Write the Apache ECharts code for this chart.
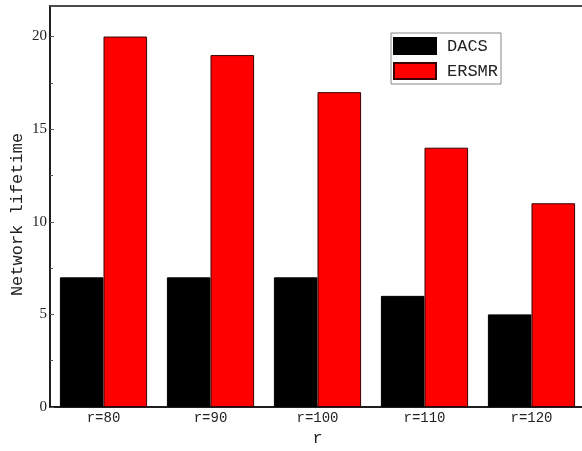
<!DOCTYPE html>
<html>
<head>
<meta charset="utf-8">
<script src="https://cdn.jsdelivr.net/npm/echarts@6/dist/echarts.min.js"></script>
<style>
  html, body { margin: 0; padding: 0; background: #fff; }
  #chart { width: 582px; height: 451px; }
</style>
</head>
<body>
<div id="chart"></div>
<script>
// Network lifetime per communication radius
const categories = ['r=80', 'r=90', 'r=100', 'r=110', 'r=120'];
const dacs = [7, 7, 7, 6, 5];
const ersmr = [20, 19, 17, 14, 11];
const yTicks = [0, 5, 10, 15, 20];

const mono = 'Liberation Mono';
const serif = 'Liberation Serif';
const textColor = '#222';

const chart = echarts.init(document.getElementById('chart'));
chart.setOption({
  animation: false,
  grid: {
    left: 50, top: 6, width: 535, bottom: 44,
    containLabel: false, outerBoundsMode: 'none',
    show: true, borderColor: '#111', borderWidth: 1.5, backgroundColor: 'transparent'
  },
  legend: {
    left: 391, top: 33,
    orient: 'vertical',
    icon: 'rect',
    itemWidth: 42, itemHeight: 16, itemGap: 7,
    padding: [4, 3, 4, 2],
    borderColor: '#888', borderWidth: 1,
    textStyle: { fontFamily: mono, fontSize: 17, color: textColor, padding: [0, 0, 0, 6] },
    data: ['DACS', 'ERSMR']
  },
  xAxis: {
    type: 'category',
    data: categories,
    name: 'r',
    nameLocation: 'middle',
    nameGap: 22,
    nameTextStyle: { fontFamily: mono, fontSize: 17, color: textColor },
    axisLine: { lineStyle: { color: '#111', width: 1.5 } },
    axisTick: { inside: true, length: 4, lineStyle: { color: '#555' } },
    axisLabel: { fontFamily: mono, fontSize: 14, color: textColor, margin: 4 },
    splitLine: { show: false }
  },
  yAxis: {
    type: 'value',
    min: 0, max: 21.65, interval: 5,
    name: 'Network lifetime',
    nameLocation: 'middle',
    nameGap: 24,
    nameMoveOverlap: false,
    nameTextStyle: { fontFamily: mono, fontSize: 17, color: textColor, padding: [0, 16, 0, 0] },
    axisLine: { show: true, lineStyle: { color: '#111', width: 1.5 } },
    axisTick: { show: true, inside: true, length: 4, lineStyle: { color: '#555' } },
    minorTick: { show: true, splitNumber: 2, length: 3, lineStyle: { color: '#555' } },
    axisLabel: {
      fontFamily: serif, fontSize: 15, color: textColor, margin: 3,
      formatter: v => (yTicks.indexOf(v) >= 0 ? String(v) : '')
    },
    splitLine: { show: false }
  },
  series: [
    {
      name: 'DACS', type: 'bar', data: dacs,
      barGap: '0%', barCategoryGap: '18.5%',
      itemStyle: { color: '#000', borderColor: '#000', borderWidth: 1 }
    },
    {
      name: 'ERSMR', type: 'bar', data: ersmr,
      itemStyle: { color: '#ff0000', borderColor: '#3a0000', borderWidth: 1 }
    }
  ]
});
</script>
</body>
</html>
